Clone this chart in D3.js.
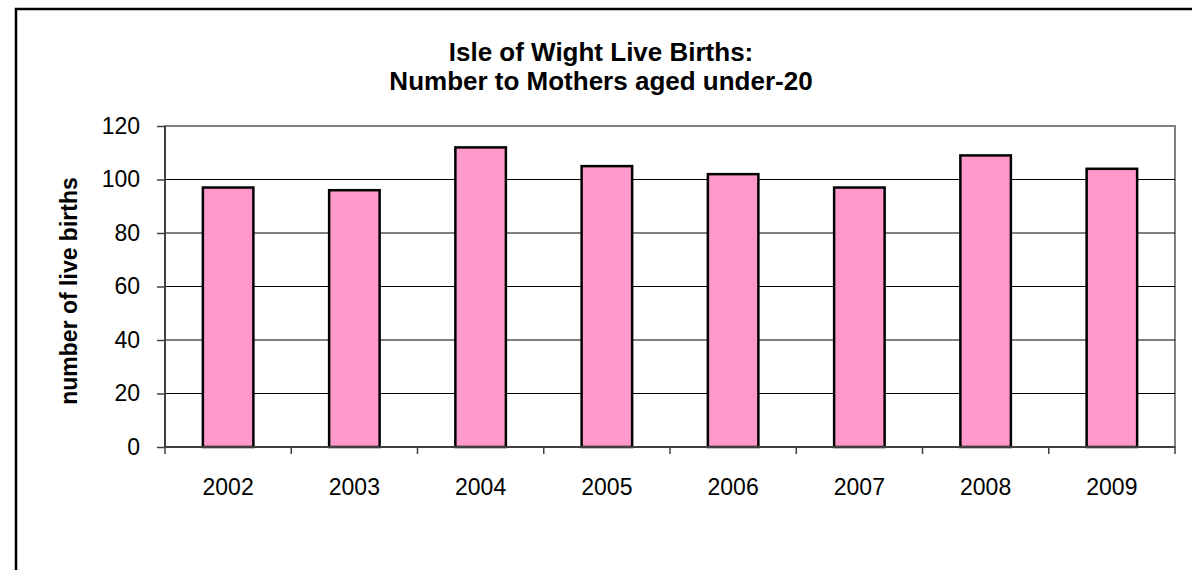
<!DOCTYPE html>
<html>
<head>
<meta charset="utf-8">
<script src="https://cdnjs.cloudflare.com/ajax/libs/d3/7.8.5/d3.min.js"></script>
<style>
  body { margin: 0; background: #fff; }
  svg { display: block; font-family: "Liberation Sans", Arial, sans-serif; }
</style>
</head>
<body>
<div class="chart"></div>
<script>
// chart data
var years = ["2002", "2003", "2004", "2005", "2006", "2007", "2008", "2009"];
var births = [97, 96, 112, 105, 102, 97, 109, 104];
var yTicks = [0, 20, 40, 60, 80, 100, 120];
var titleLines = ["Isle of Wight Live Births:", "Number to Mothers aged under-20"];
var yLabel = "number of live births";

var svgWidth = 1192;
var svgHeight = 570;

var margin = { top: 126, right: 17, bottom: 123, left: 165 };
var chartWidth = svgWidth - margin.left - margin.right;
var chartHeight = svgHeight - margin.top - margin.bottom;

var svg = d3.select(".chart")
  .append("svg")
  .attr("width", svgWidth)
  .attr("height", svgHeight);

// outer chart border (runs off the right and bottom edges)
svg.append("rect")
  .attr("x", 16)
  .attr("y", 9)
  .attr("width", 1300)
  .attr("height", 700)
  .attr("fill", "#fff")
  .attr("stroke", "#000")
  .attr("stroke-width", 2.5);

// title
svg.append("g").selectAll("text")
  .data(titleLines)
  .enter()
  .append("text")
  .attr("x", 601)
  .attr("y", (d, i) => 61 + i * 29)
  .attr("text-anchor", "middle")
  .attr("font-size", "26px")
  .attr("font-weight", "bold")
  .text(d => d);

var chartGroup = svg.append("g")
  .attr("transform", `translate(${margin.left}, ${margin.top})`);

// scales
var xScale = d3.scaleBand()
  .domain(years)
  .range([0, chartWidth])
  .paddingInner(0.6)
  .paddingOuter(0.3);

var xBound = d3.scaleLinear()
  .domain([0, years.length])
  .range([0, chartWidth]);

var yScale = d3.scaleLinear()
  .domain([0, 120])
  .range([chartHeight, 0]);

// plot area border
chartGroup.append("rect")
  .attr("width", chartWidth)
  .attr("height", chartHeight)
  .attr("fill", "none")
  .attr("stroke", "#808080")
  .attr("stroke-width", 2);

// gridlines
chartGroup.append("g").selectAll("line")
  .data(yTicks.filter(t => t > 0 && t < 120))
  .enter()
  .append("line")
  .attr("x1", 0)
  .attr("x2", chartWidth)
  .attr("y1", d => yScale(d))
  .attr("y2", d => yScale(d))
  .attr("stroke", "#000")
  .attr("stroke-width", 1);

// bars
chartGroup.append("g").selectAll("rect")
  .data(births)
  .enter()
  .append("rect")
  .attr("x", (d, i) => xScale(years[i]))
  .attr("y", d => yScale(d))
  .attr("width", xScale.bandwidth())
  .attr("height", d => chartHeight - yScale(d))
  .attr("fill", "#FF99CC")
  .attr("stroke", "#000")
  .attr("stroke-width", 2.5);

// y axis
var yAxis = d3.axisLeft(yScale)
  .tickValues(yTicks)
  .tickSize(8)
  .tickPadding(17);

var yAxisG = chartGroup.append("g").call(yAxis);
yAxisG.select(".domain").remove();
yAxisG.append("line")
  .attr("x1", 0).attr("x2", 0)
  .attr("y1", 0).attr("y2", chartHeight)
  .attr("stroke", "#404040")
  .attr("stroke-width", 2);
yAxisG.selectAll(".tick line").attr("stroke", "#404040").attr("stroke-width", 1.5);
yAxisG.selectAll("text")
  .attr("font-size", "23px")
  .attr("font-family", "Liberation Sans, Arial, sans-serif")
  .attr("fill", "#000");

// x axis: ticks between categories
var xAxisG = chartGroup.append("g")
  .attr("transform", `translate(0, ${chartHeight})`);
xAxisG.append("line")
  .attr("x1", 0).attr("x2", chartWidth)
  .attr("stroke", "#404040")
  .attr("stroke-width", 2);
xAxisG.selectAll(".xtick")
  .data(d3.range(years.length + 1))
  .enter()
  .append("line")
  .attr("class", "xtick")
  .attr("x1", d => xBound(d))
  .attr("x2", d => xBound(d))
  .attr("y1", 0)
  .attr("y2", 7)
  .attr("stroke", "#404040")
  .attr("stroke-width", 1.5);
xAxisG.selectAll(".xlabel")
  .data(years)
  .enter()
  .append("text")
  .attr("class", "xlabel")
  .attr("x", d => xScale(d) + xScale.bandwidth() / 2)
  .attr("y", 48)
  .attr("text-anchor", "middle")
  .attr("font-size", "23px")
  .text(d => d);

// y axis label
svg.append("text")
  .attr("transform", "translate(77, 291) rotate(-90)")
  .attr("text-anchor", "middle")
  .attr("font-size", "23px")
  .attr("font-weight", "bold")
  .text(yLabel);
</script>
</body>
</html>
